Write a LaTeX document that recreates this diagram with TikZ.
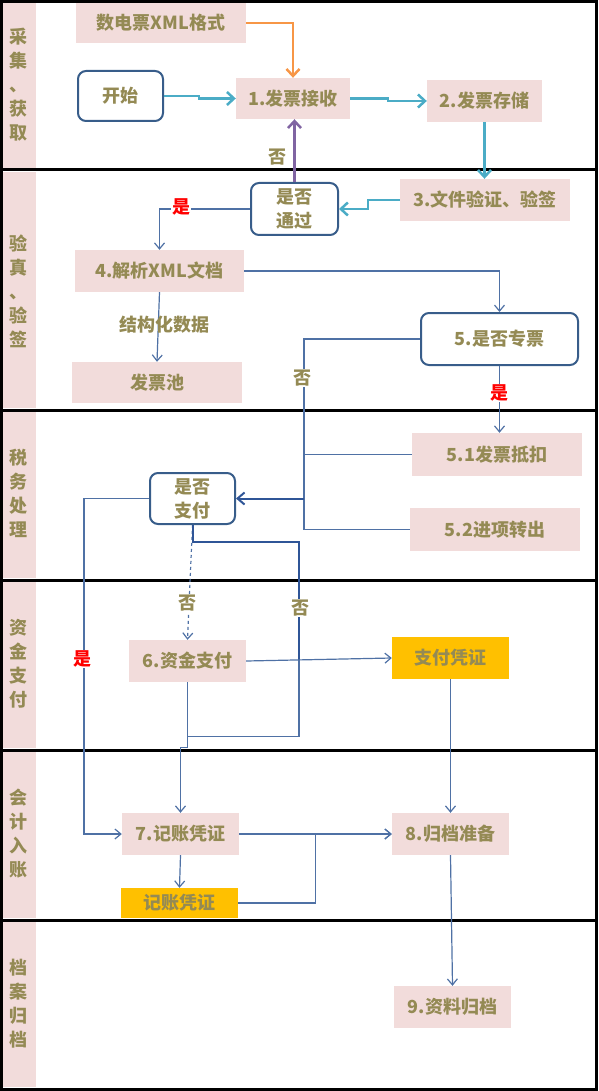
\documentclass[tikz,border=0pt]{standalone}
\usepackage{fontspec}
\setmainfont{Noto Sans CJK SC}
\usetikzlibrary{arrows.meta,calc}
\definecolor{pinkc}{RGB}{242,220,219}
\definecolor{yellowc}{RGB}{255,192,0}
\definecolor{olivec}{RGB}{148,138,84}
\definecolor{rborder}{RGB}{56,93,138}
\definecolor{cyanc}{RGB}{75,172,198}
\definecolor{orangec}{RGB}{247,150,70}
\definecolor{purplec}{RGB}{128,100,162}
\definecolor{linec}{RGB}{79,113,165}
\definecolor{darkc}{RGB}{47,85,151}
\begin{document}
\begin{tikzpicture}[x=1pt,y=-1pt,
  txt/.style={font=\fontsize{18}{24}\selectfont\bfseries, text=olivec},
  pbox/.style={txt, fill=pinkc, inner sep=0pt, minimum width=#1},
  ybox/.style={txt, fill=yellowc, inner sep=0pt, minimum width=#1},
  rbox/.style={txt, draw=rborder, line width=2pt, rounded corners=8pt, fill=white, inner sep=0pt, align=center, minimum width=#1},
  conn/.style={draw=linec, line width=1.2pt, -{Straight Barb[length=6pt,width=10pt]}},
  plainline/.style={draw=linec, line width=1.2pt},
  cyanarr/.style={draw=cyanc, line width=2.5pt, -{Straight Barb[length=7pt,width=13pt]}},
  lbl/.style={font=\fontsize{18}{22}\selectfont\bfseries, fill=white, inner sep=1pt},
  yeslbl/.style={lbl, text=red},
  nolbl/.style={lbl, text=olivec},
  lanelbl/.style={txt, align=center, inner sep=0pt}
]
\useasboundingbox (0,0) rectangle (598,1091);
% lane label columns
\fill[pinkc] (3,3) rectangle (36,168);
\fill[pinkc] (3,172) rectangle (36,408);
\fill[pinkc] (3,412) rectangle (36,578);
\fill[pinkc] (3,582) rectangle (36,748);
\fill[pinkc] (3,752) rectangle (36,918);
\fill[pinkc] (3,922) rectangle (36,1087);
% lane lines and border
\foreach \yy in {170,410,580,750,920} \draw[line width=3pt] (0,\yy) -- (598,\yy);
\draw[line width=3pt] (1.5,1.5) rectangle (596.5,1089.5);
% lane labels
\node[lanelbl] (L1) at (18.5,85) {采\\集\\、\\获\\取};
\node[lanelbl] (L2) at (18.5,291) {验\\真\\、\\验\\签};
\node[lanelbl] (L3) at (18.5,493) {税\\务\\处\\理};
\node[lanelbl] (L4) at (18.5,664) {资\\金\\支\\付};
\node[lanelbl] (L5) at (18.5,834) {会\\计\\入\\账};
\node[lanelbl] (L6) at (18.5,1004) {档\\案\\归\\档};
% nodes
\node[pbox=170, minimum height=40] (xml) at (161,23) {数电票XML格式};
\node[rbox=85, minimum height=50] (start) at (120.5,96) {开始};
\node[pbox=114, minimum height=41] (n1) at (293,98.5) {1.发票接收};
\node[pbox=115, minimum height=42] (n2) at (484.5,101) {2.发票存储};
\node[pbox=170, minimum height=42] (n3) at (485,200) {3.文件验证、验签};
\node[rbox=87, minimum height=52] (pass) at (294.5,209) {是否\\通过};
\node[pbox=169, minimum height=42] (n4) at (159.5,271) {4.解析XML文档};
\node[pbox=170, minimum height=41] (pool) at (157,382.5) {发票池};
\node[rbox=157, minimum height=52] (n5) at (499.5,339) {5.是否专票};
\node[pbox=170, minimum height=43] (n51) at (497,454.5) {5.1发票抵扣};
\node[pbox=170, minimum height=43] (n52) at (495,529.5) {5.2进项转出};
\node[rbox=85, minimum height=51] (pay) at (192.5,498.5) {是否\\支付};
\node[pbox=117, minimum height=42] (n6) at (187.5,661) {6.资金支付};
\node[ybox=117, minimum height=42] (vp) at (450.5,658) {支付凭证};
\node[pbox=117, minimum height=42] (n7) at (180.5,834) {7.记账凭证};
\node[pbox=117, minimum height=42] (n8) at (450.5,834) {8.归档准备};
\node[ybox=117, minimum height=30] (v7) at (179.5,903) {记账凭证};
\node[pbox=117, minimum height=42] (n9) at (452.5,1007) {9.资料归档};
\coordinate (j) at (304,0);
\coordinate (k) at (299,660);
% connectors
\draw[draw=orangec, line width=2.5pt, -{Straight Barb[length=7pt,width=13pt]}] (xml.east) -| (n1.north);
\draw[cyanarr] (start.east) -- ++(35,0) |- (n1.west);
\draw[cyanarr] (n1.east) -- ++(38,0) |- (n2.west);
\draw[cyanarr] (n2.south) -- (n2.south |- n3.north);
\draw[cyanarr] (n3.west) -- ++(-32,0) |- (pass.east);
\draw[draw=purplec, line width=2.5pt, -{Straight Barb[length=7pt,width=13pt]}] (pass.north) -- (pass.north |- n1.south);
\draw[conn] (pass.west) -| (n4.north);
\draw[conn] (n4.east) -| (n5.north);
\draw[conn] (n4.south) -- (pool.north);
\draw[plainline] (n5.west) -| (j |- n52.west) -- (n52.west);
\draw[plainline] (j |- n51.west) -- (n51.west);
\draw[draw=darkc, line width=2pt, -{Straight Barb[length=7pt,width=12pt]}] (j |- pay.east) -- (pay.east);
\draw[conn] (n5.south) -- (n5.south |- n51.north);
\draw[conn] (pay.west) -- ++(-65,0) |- (n7.west);
\draw[conn, dashed] (pay.south) -- (n6.north);
\draw[draw=darkc, line width=2pt] (pay.south) -- ++(0,17) -| (k);
\draw[plainline] (k) |- ($(n6.south)+(0,54)$);
\draw[conn] (n6.south) -- ++(0,65) -- ++(-7,0) -- (n7.north);
\draw[conn] (n6.east) -- (vp.west);
\draw[conn] (vp.south) -- (n8.north);
\draw[conn] (n7.east) -- (n8.west);
\draw[conn] (n7.south) -- (v7.north);
\draw[conn] (v7.east) -- ++(77,0) |- (n8.west);
\draw[conn] (n8.south) -- (n9.north);
% labels
\node[txt, inner sep=0pt] (lno1) at (277,157) {否};
\node[yeslbl] (lyes1) at (181,207) {是};
\node[txt, inner sep=0pt] (lstruct) at (164,325) {结构化数据};
\node[nolbl] (lno2) at (302,378) {否};
\node[yeslbl] (lyes2) at (499,393) {是};
\node[nolbl] (lno3) at (187,603) {否};
\node[nolbl] (lno4) at (300,608) {否};
\node[yeslbl] (lyes3) at (82,659) {是};
\end{tikzpicture}
\end{document}
